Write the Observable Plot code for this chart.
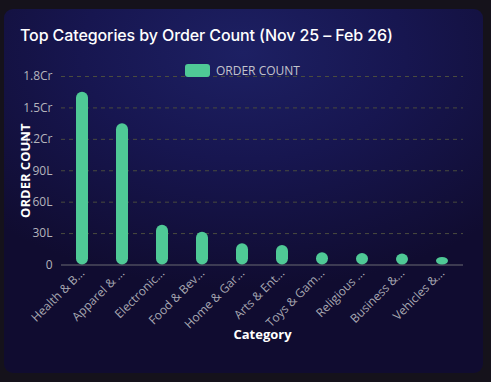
<!DOCTYPE html>
<html>
<head>
<meta charset="utf-8">
<script src="https://cdn.jsdelivr.net/npm/d3@7"></script>
<script src="https://cdn.jsdelivr.net/npm/@observablehq/plot@0.6"></script>
<style>
  html, body { margin: 0; padding: 0; background: #15121b; width: 491px; height: 382px; overflow: hidden; }
  #card { position: absolute; left: 4px; top: 9px; width: 479px; height: 364px; border-radius: 9px;
    background: radial-gradient(ellipse 75% 65% at 50% 12%, #1d2063 0%, #171650 45%, #100c30 100%); overflow: hidden; }
  #title { position: absolute; left: 16px; top: 16px; color: #ffffff; font-family: Inter, sans-serif; font-size: 16px; font-weight: 500; letter-spacing: -0.1px; white-space: nowrap; }
  #legend { position: absolute; left: 181px; top: 53px; display: flex; align-items: center; font-family: "Open Sans", sans-serif; font-size: 12px; color: #c4c4cc; }
  #legend .sw { width: 25px; height: 13px; border-radius: 3px; background: #4fc996; margin-right: 6px; }
  #chart { position: absolute; left: 0; top: 51px; }
</style>
</head>
<body>
<div id="card">
  <div id="title">Top Categories by Order Count (Nov 25 – Feb 26)</div>
  <div id="chart"></div>
  <div id="legend"><div class="sw"></div><span>ORDER COUNT</span></div>
</div>
<script>
const categories = ["Health & Beauty", "Apparel & Accessories", "Electronics", "Food & Beverages", "Home & Garden", "Arts & Entertainment", "Toys & Games", "Religious & Ceremonial", "Business & Industrial", "Vehicles & Parts"];
const orderCounts = [16500000, 13500000, 3800000, 3130000, 2030000, 1870000, 1180000, 1100000, 1040000, 720000];
const yTickValues = [0, 3000000, 6000000, 9000000, 12000000, 15000000, 18000000];
const yTickLabels = ["0", "30L", "60L", "90L", "1.2Cr", "1.5Cr", "1.8Cr"];

const data = categories.map((c, i) => ({category: c, count: orderCounts[i]}));
const truncate = s => s.length > 10 ? s.slice(0, 10) + "..." : s;
const tickLabel = v => yTickLabels[yTickValues.indexOf(v)];

const chart = Plot.plot({
  width: 479,
  height: 300,
  marginLeft: 57,
  marginRight: 20,
  marginTop: 16,
  marginBottom: 95.5,
  style: { background: "transparent", fontFamily: "'Open Sans', sans-serif", fontSize: "12px", color: "#b4b4bc" },
  x: { domain: categories, padding: 0, label: null },
  y: { domain: [0, 18000000], label: null },
  marks: [
    Plot.gridY(yTickValues.filter(v => v > 0), { stroke: "#4a4b3e", strokeOpacity: 1, strokeDasharray: "4,4" }),
    Plot.ruleY([0], { stroke: "#6a6a72", strokeWidth: 1.2 }),
    Plot.barY(data, { x: "category", y: "count", fill: "#4fc996", insetLeft: 14, insetRight: 14, rx: 6 }),
    Plot.axisY({ ticks: yTickValues, tickFormat: tickLabel, tickSize: 0, tickPadding: 9, label: null, fill: "#b4b4bc", fontSize: 12 }),
    Plot.axisX({ tickFormat: truncate, tickSize: 0, tickPadding: 6, tickRotate: -45, label: null, fill: "#a8a8b2", fontSize: 12 }),
    Plot.text(["ORDER COUNT"], { frameAnchor: "left", textAnchor: "middle", dx: -36, rotate: -90, fill: "#ffffff", fontWeight: "bold", fontSize: 13, fontFamily: "'Open Sans', sans-serif" }),
    Plot.text(["Category"], { frameAnchor: "bottom", dy: 73.5, fill: "#ffffff", fontWeight: "bold", fontSize: 13, fontFamily: "'Open Sans', sans-serif" })
  ]
});
document.getElementById("chart").appendChild(chart);
</script>
</body>
</html>
